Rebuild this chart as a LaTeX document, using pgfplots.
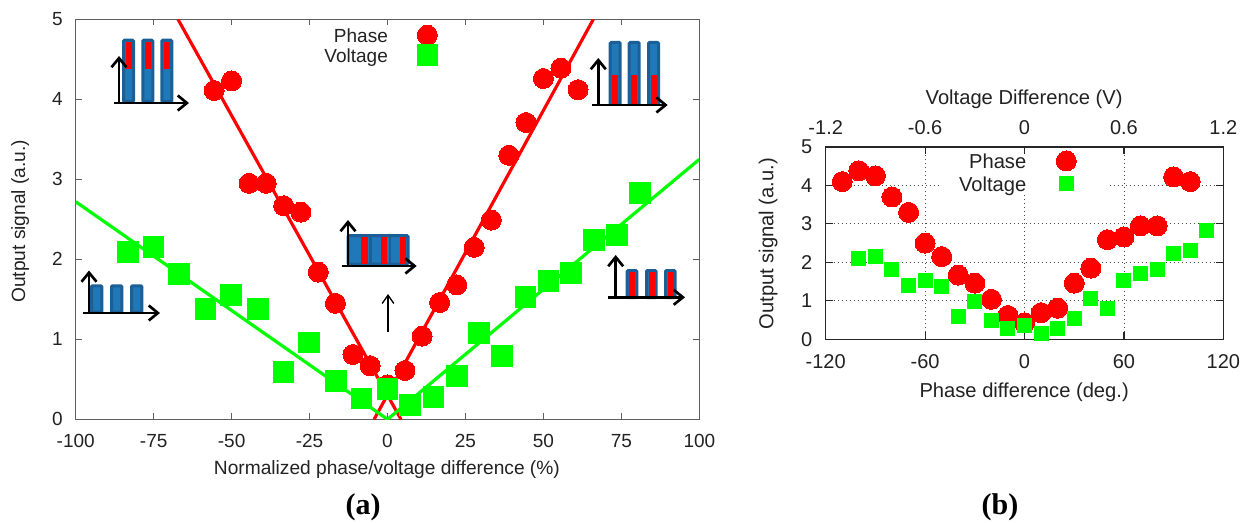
\documentclass[border=0pt]{standalone}
\usepackage{pgfplots}
\pgfplotsset{compat=1.18}
\usetikzlibrary{arrows.meta}
\usepackage{fontspec}
\setmainfont{Liberation Sans}
\newfontfamily\capfont{Liberation Serif}
\definecolor{barblue}{HTML}{1F78B8}
\definecolor{baredge}{HTML}{1B5F96}
\definecolor{axgray}{HTML}{606060}
\definecolor{txt}{HTML}{222222}
\pgfplotsset{
  common/.style={
    scale only axis, clip=true,
    /pgf/number format/assume math mode=true,
    tick label style={text=txt, inner sep=0pt},
    label style={text=txt},
    tick align=inside,
    legend cell align=right, legend plot pos=right,
  },
}
\begin{document}
\begin{tikzpicture}[x=0.6pt,y=-0.6pt]
\useasboundingbox (0,0) rectangle (1250,523);
\coordinate (A) at (75.7,419.3);
\coordinate (B) at (825.7,339.3);

\begin{axis}[common, at={(A)}, anchor=south west, width=374.2pt, height=240pt,
  xmin=-100, xmax=100, ymin=0, ymax=5,
  xtick={-100,-75,-50,-25,0,25,50,75,100},
  xticklabels={-100,-75,-50,-25,0,25,50,75,100},
  ytick={0,1,2,3,4,5},
  major tick length=3.6pt,
  axis line style={axgray,line width=0.9pt},
  tick style={axgray,line width=0.7pt},
  tick label style={font=\fontsize{11.4}{13}\selectfont},
  label style={font=\fontsize{11.5}{13}\selectfont},
  xticklabel style={yshift=-8.8pt},
  yticklabel style={xshift=-7.6pt},
  xlabel={Normalized phase/voltage difference (\%)},
  ylabel={Output signal (a.u.)},
  x label style={at={(axis description cs:0.499,-0.125)},anchor=center},
  y label style={at={(axis description cs:-0.089,0.495)},anchor=center},
  legend image post style={yshift=-1.5pt},
  legend style={draw=none, fill=none, at={(axis description cs:0.393,1)}, anchor=north west,
    font=\fontsize{11.4}{13}\selectfont, text=txt, inner xsep=0pt, inner ysep=2.1pt,
    row sep=-1.2pt, nodes={inner ysep=0pt, text height=11.4pt, text depth=0pt},
    /tikz/column 1/.style={column sep=15.5pt}},
]
\addplot[red, line width=1.9pt, forget plot] coordinates {(-67.2,5)(4.3,0)};
\addplot[red, line width=1.9pt, forget plot] coordinates {(66,5)(-4.3,0)};
\addplot[only marks, mark=*, mark size=6pt, mark options={fill=red,draw=red,line width=0pt}] coordinates {
(-55.6,4.11)(-50,4.23)(-44.4,2.95)(-38.9,2.95)(-33.3,2.67)(-27.8,2.59)(-22.2,1.84)(-16.7,1.45)
(-11.1,0.81)(-5.6,0.67)(0,0.43)(5.6,0.61)(11.1,1.04)(16.7,1.46)(22.2,1.68)(27.8,2.15)
(33.3,2.49)(38.9,3.30)(44.4,3.71)(50,4.26)(55.6,4.39)(61.1,4.12)};
\addlegendentry{Phase}
\addplot[green, line width=1.9pt, forget plot] coordinates {(-100,2.72)(0,0)(100,3.25)};
\addplot[only marks, mark=square*, mark size=6.2pt, mark options={fill=green,draw=green,line width=0pt}] coordinates {
(-83.3,2.09)(-75,2.15)(-66.8,1.82)(-58.4,1.38)(-50.1,1.55)(-41.6,1.38)(-33.4,0.59)(-25.1,0.96)
(-16.6,0.475)(-8.3,0.26)(0,0.375)(7.3,0.175)(14.7,0.275)(22.2,0.54)(29.4,1.08)(36.8,0.79)
(44.2,1.525)(51.6,1.725)(58.8,1.825)(66.3,2.24)(73.5,2.30)(81,2.83)};
\addlegendentry{Voltage}
\end{axis}

\begin{axis}[common, at={(B)}, anchor=south west, width=238.6pt, height=115.4pt,
  xmin=-120, xmax=120, ymin=0, ymax=5,
  xtick={-120,-60,0,60,120},
  xticklabels={-120,-60,0,60,120},
  ytick={0,1,2,3,4,5},
  major tick length=4.2pt,
  axis line style={black!85,line width=0.9pt},
  tick style={black!85,line width=0.7pt},
  grid=major, grid style={dotted, black!70, line width=0.5pt},
  tick label style={font=\fontsize{12}{14}\selectfont},
  label style={font=\fontsize{12.1}{14}\selectfont},
  xticklabel style={yshift=-8.8pt},
  yticklabel style={xshift=-7.8pt},
  xlabel={Phase difference (deg.)},
  ylabel={Output signal (a.u.)},
  x label style={at={(axis description cs:0.499,-0.274)},anchor=center},
  y label style={at={(axis description cs:-0.145,0.497)},anchor=center},
  legend image post style={yshift=-1.5pt},
  legend style={draw=none, fill=white, at={(axis description cs:0.2925,1)}, anchor=north west,
    font=\fontsize{12.1}{14}\selectfont, text=txt, inner xsep=8pt, inner ysep=0.5pt,
    row sep=0pt, nodes={inner ysep=0pt, text height=12.42pt, text depth=0pt},
    /tikz/column 1/.style={column sep=16pt}},
]
\addplot[only marks, mark=*, mark size=6pt, mark options={fill=red,draw=red,line width=0pt}] coordinates {
(-110,4.10)(-100,4.38)(-90,4.25)(-80,3.70)(-70,3.30)(-60,2.50)(-50,2.15)(-40,1.67)(-30,1.46)
(-20,1.04)(-10,0.62)(0,0.43)(10,0.69)(20,0.81)(30,1.46)(40,1.85)(50,2.59)(60,2.66)(70,2.95)
(80,2.95)(90,4.22)(100,4.10)};
\addlegendentry{Phase}
\addplot[only marks, mark=square*, mark size=4.2pt, mark options={fill=green,draw=green,line width=0pt}] coordinates {
(-100,2.09)(-90,2.15)(-80,1.82)(-70,1.39)(-60,1.54)(-50,1.38)(-40,0.58)(-30,0.97)(-20,0.48)
(-10,0.28)(0,0.37)(10,0.16)(20,0.28)(30,0.55)(40,1.07)(50,0.79)(60,1.52)(70,1.72)(80,1.82)
(90,2.24)(100,2.30)(110,2.82)};
\addlegendentry{Voltage}
\end{axis}
\fill[white] (1083,148.5) rectangle (1107,193);

\begin{axis}[common, at={(B)}, anchor=south west, width=238.6pt, height=115.4pt,
  xmin=-1.2, xmax=1.2, ymin=0, ymax=5,
  axis x line*=top, axis y line=none,
  xtick={-1.2,-0.6,0,0.6,1.2},
  xticklabels={-1.2,-0.6,0,0.6,1.2},
  major tick length=4.2pt,
  tick style={black!85,line width=0.7pt},
  axis line style={black!85,line width=0.9pt},
  tick label style={font=\fontsize{12}{14}\selectfont},
  label style={font=\fontsize{12.1}{14}\selectfont},
  xticklabel style={yshift=7.2pt},
  xlabel={Voltage Difference (V)},
  x label style={at={(axis description cs:0.499,1.25)},anchor=center},
]
\addplot[draw=none, forget plot] coordinates {(-1.2,0)(1.2,5)};
\end{axis}

% inset schematics
\tikzset{
  barb/.style={fill=barblue, draw=baredge, line width=1.8pt, rounded corners=0.6pt},
  ax/.style={black, line width=1.6pt, -{Straight Barb[length=5.5pt,width=9pt]}},
}
\foreach \l in {122,141.3,160.3}{
  \fill[barb] (\l+1.5,40.2) rectangle (\l+11.5,101.5);
  \fill[red] (\l+3.5,41.7) rectangle (\l+9.5,69.3);
}
\draw[ax] (119,103) -- (119,56);
\draw[ax] (114,103) -- (189,103);

\foreach \l in {608.7,627.7,647}{
  \fill[barb] (\l+1.5,42.5) rectangle (\l+11.5,104.2);
  \fill[red] (\l+3.5,75.3) rectangle (\l+9.5,104);
}
\draw[ax] (598.3,105) -- (598.3,58);
\draw[ax] (592,105) -- (667.7,105);

\fill[barb] (348,235.7) rectangle (408,264);
\foreach \l in {361.3,380.7,400}{ \fill[red] (\l,237) rectangle (\l+6.2,264); }
\foreach \l in {369,388.5}{ \fill[baredge] (\l,237) rectangle (\l+2.5,264); }
\draw[ax] (348,266) -- (348,220);
\draw[ax] (341.7,266) -- (416.7,266);

\foreach \l in {90,110,130}{
  \fill[barb] (\l+1.5,285.8) rectangle (\l+11.8,312);
}
\draw[ax] (89,313) -- (89,270.5);
\draw[ax] (83.3,313) -- (160,313);

\foreach \l in {625.7,645,664}{
  \fill[barb] (\l+1.5,270.5) rectangle (\l+11.1,297.5);
  \fill[red] (\l+3.5,271.7) rectangle (\l+9.5,297.5);
}
\draw[ax] (615.7,297.3) -- (615.7,255);
\draw[ax] (608.3,297.3) -- (685,297.3);

\draw[black, line width=0.8pt, -{Straight Barb[length=5pt,width=7pt]}] (388,331.7) -- (388,294);

\node[font=\capfont\bfseries\fontsize{18}{20}\selectfont] at (363,507) {(a)};
\node[font=\capfont\bfseries\fontsize{18}{20}\selectfont] at (1000,507) {(b)};
\end{tikzpicture}
\end{document}
